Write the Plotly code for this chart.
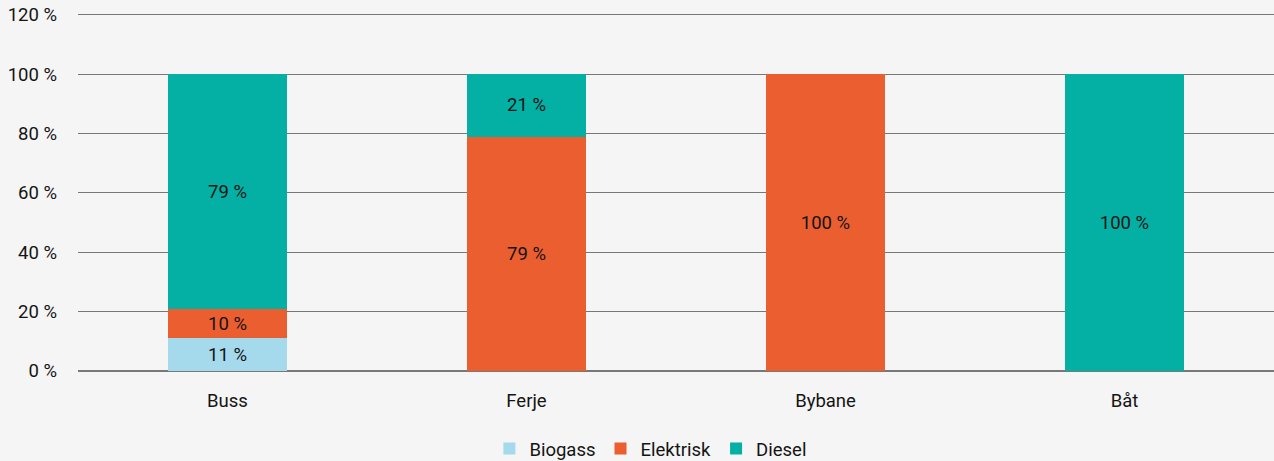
import plotly.graph_objects as go

categories = ["Buss", "Ferje", "Bybane", "Båt"]
biogass = [11, 0, 0, 0]
elektrisk = [10, 79, 100, 0]
diesel = [79, 21, 0, 100]
series_names = ["Biogass", "Elektrisk", "Diesel"]
colors = ["#a5d9ec", "#ea5e30", "#04b0a4"]
y_ticks = [0, 20, 40, 60, 80, 100, 120]

FS = 18.5
TXT = "#141414"

fig = go.Figure()
for name, vals, col in zip(series_names, [biogass, elektrisk, diesel], colors):
    fig.add_trace(go.Bar(
        x=categories,
        y=[v if v > 0 else None for v in vals],
        name=name,
        marker=dict(color=col, line=dict(width=0)),
        text=[f"{v} %" if v > 0 else "" for v in vals],
        textposition="inside",
        insidetextanchor="middle",
        textfont=dict(color=TXT, size=FS, family="Roboto"),
        textangle=0,
        hoverinfo="skip",
    ))

fig.update_layout(
    barmode="stack",
    bargap=0.6,
    width=1274,
    height=461,
    margin=dict(l=78, r=0, t=12, b=90, autoexpand=False),
    paper_bgcolor="#f5f5f5",
    plot_bgcolor="#f5f5f5",
    font=dict(family="Roboto", size=FS, color=TXT),
    legend=dict(
        orientation="h",
        x=0.479, xanchor="center",
        yref="container",
        y=0.026, yanchor="middle",
        font=dict(size=FS, color=TXT),
        itemwidth=30,
        traceorder="normal",
    ),
    xaxis=dict(
        showgrid=False,
        showline=False,
        ticks="",
        ticklabelstandoff=16,
        tickfont=dict(size=FS, color=TXT),
    ),
    yaxis=dict(
        range=[0, 121],
        tickvals=y_ticks,
        ticktext=[f"{v} %" for v in y_ticks],
        showgrid=True,
        gridcolor="#787878",
        gridwidth=1.2,
        zeroline=True,
        zerolinecolor="#787878",
        zerolinewidth=1.5,
        ticks="",
        ticklabelstandoff=20,
        tickfont=dict(size=FS, color=TXT),
    ),
)

fig.write_html(
    "out.html",
    config={"displayModeBar": False},
    post_script="document.body.style.margin='0';document.body.style.overflow='hidden';",
)
